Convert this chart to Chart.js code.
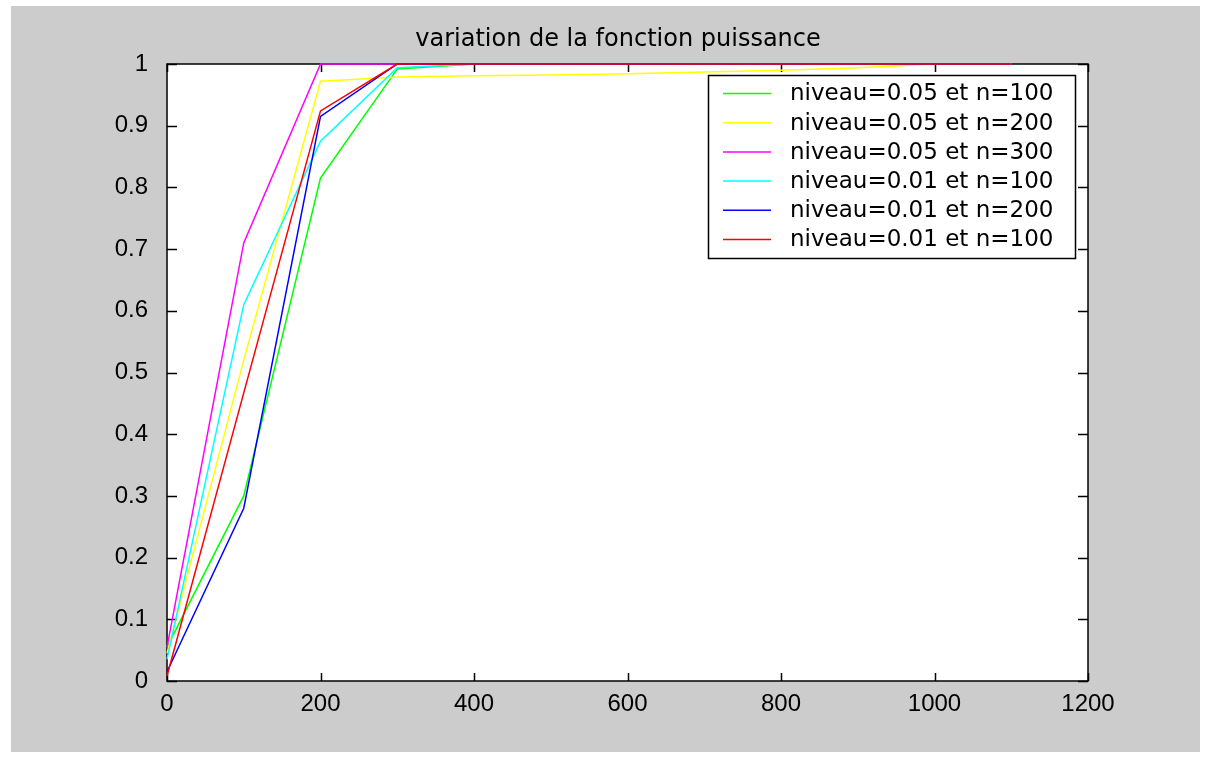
<!DOCTYPE html>
<html>
<head>
<meta charset="utf-8">
<script src="https://cdn.jsdelivr.net/npm/chart.js@4"></script>
<style>
  html, body { margin: 0; padding: 0; background: #ffffff; }
  canvas { display: block; }
</style>
</head>
<body>
<canvas id="c" width="1206" height="761"></canvas>
<script>
// ---- data ----
const xValues = [0, 100, 200, 300, 400, 500, 600, 700, 800, 900, 1000, 1100];
const seriesLabels = [
  'niveau=0.05 et n=100',
  'niveau=0.05 et n=200',
  'niveau=0.05 et n=300',
  'niveau=0.01 et n=100',
  'niveau=0.01 et n=200',
  'niveau=0.01 et n=100'
];
const seriesColors = ['#00ff00', '#ffff00', '#ff00ff', '#00ffff', '#0000ff', '#ff0000'];
const greenValues   = [0.055, 0.300, 0.815, 0.992, 1, 1, 1, 1, 1, 1, 1, 1];
const yellowValues  = [0.045, 0.520, 0.972, 0.979, 0.981, 0.982, 0.984, 0.987, 0.990, 0.994, 1, 1];
const magentaValues = [0.055, 0.710, 1.000, 1, 1, 1, 1, 1, 1, 1, 1, 1];
const cyanValues    = [0.035, 0.610, 0.875, 0.994, 1, 1, 1, 1, 1, 1, 1, 1];
const blueValues    = [0.015, 0.280, 0.915, 1, 1, 1, 1, 1, 1, 1, 1, 1];
const redValues     = [0.008, 0.467, 0.924, 1, 1, 1, 1, 1, 1, 1, 1, 1];
const xTickLabels = ['0', '200', '400', '600', '800', '1000', '1200'];
const yTickLabels = ['0', '0.1', '0.2', '0.3', '0.4', '0.5', '0.6', '0.7', '0.8', '0.9', '1'];
const titleText = 'variation de la fonction puissance';

const allValues = [greenValues, yellowValues, magentaValues, cyanValues, blueValues, redValues];

const datasets = allValues.map((vals, i) => ({
  label: seriesLabels[i],
  data: xValues.map((x, j) => ({ x: x, y: vals[j] })),
  borderColor: seriesColors[i],
  backgroundColor: seriesColors[i],
  borderWidth: 1.5,
  pointRadius: 0,
  fill: false,
  tension: 0,
  clip: 3,
  order: allValues.length - i
}));

const matlabPlugin = {
  id: 'matlabLook',
  beforeDraw(chart) {
    const ctx = chart.ctx;
    const a = chart.chartArea;
    ctx.save();
    ctx.fillStyle = '#ffffff';
    ctx.fillRect(0, 0, chart.width, chart.height);
    ctx.fillStyle = '#cccccc';
    ctx.fillRect(11, 6, 1189, 746);
    ctx.fillStyle = '#ffffff';
    ctx.fillRect(a.left, a.top, a.right - a.left, a.bottom - a.top);
    ctx.restore();
  },
  beforeDatasetsDraw(chart) {
    const ctx = chart.ctx;
    const a = chart.chartArea;
    const xs = chart.scales.x, ys = chart.scales.y;
    ctx.save();
    ctx.strokeStyle = '#000000';
    ctx.lineWidth = 1.5;
    ctx.strokeRect(a.left, a.top, a.right - a.left, a.bottom - a.top);
    ctx.beginPath();
    xs.ticks.forEach(t => {
      const px = Math.round(xs.getPixelForValue(t.value)) + 0.5;
      ctx.moveTo(px, a.bottom); ctx.lineTo(px, a.bottom - 8);
      ctx.moveTo(px, a.top); ctx.lineTo(px, a.top + 8);
    });
    ys.ticks.forEach(t => {
      const py = Math.round(ys.getPixelForValue(t.value)) + 0.5;
      ctx.moveTo(a.left, py); ctx.lineTo(a.left + 10, py);
      ctx.moveTo(a.right, py); ctx.lineTo(a.right - 10, py);
    });
    ctx.lineWidth = 1.5;
    ctx.stroke();
    ctx.restore();
  },
  afterDatasetsDraw(chart) {
    const ctx = chart.ctx;
    ctx.save();
    // title
    ctx.fillStyle = '#000000';
    ctx.font = '24px "DejaVu Sans"';
    ctx.textAlign = 'center';
    ctx.textBaseline = 'alphabetic';
    ctx.fillText(titleText, 618, 46);
    // legend box
    const bx = 708.5, by = 75.5, bw = 367, bh = 183;
    ctx.fillStyle = '#ffffff';
    ctx.fillRect(bx, by, bw, bh);
    ctx.strokeStyle = '#000000';
    ctx.lineWidth = 1.5;
    ctx.strokeRect(bx, by, bw, bh);
    ctx.font = '23px "DejaVu Sans"';
    ctx.textAlign = 'left';
    ctx.textBaseline = 'middle';
    chart.data.datasets.forEach((ds, i) => {
      const y = 93.5 + i * 29.2;
      ctx.strokeStyle = ds.borderColor;
      ctx.lineWidth = 1.5;
      ctx.beginPath();
      ctx.moveTo(723, y); ctx.lineTo(771, y);
      ctx.stroke();
      ctx.fillStyle = '#000000';
      ctx.fillText(ds.label, 790, y + 1);
    });
    ctx.restore();
  }
};

new Chart(document.getElementById('c'), {
  type: 'line',
  data: { datasets: datasets },
  options: {
    responsive: false,
    animation: false,
    events: [],
    layout: { padding: { left: 0, top: 64, right: 118, bottom: 0 } },
    plugins: { legend: { display: false }, tooltip: { enabled: false }, title: { display: false } },
    scales: {
      x: {
        type: 'linear', min: 0, max: 1200,
        grid: { display: false },
        border: { display: false },
        ticks: {
          stepSize: 200, color: '#000000', padding: 1, maxRotation: 0,
          font: { family: 'Liberation Sans', size: 24 },
          callback: (v, i) => xTickLabels[i]
        },
        afterFit: s => { s.height = 80; }
      },
      y: {
        type: 'linear', min: 0, max: 1,
        grid: { display: false },
        border: { display: false },
        ticks: {
          stepSize: 0.1, color: '#000000', padding: 11,
          font: { family: 'Liberation Sans', size: 24 },
          callback: (v, i) => yTickLabels[i]
        },
        afterFit: s => { s.width = 167; }
      }
    }
  },
  plugins: [matlabPlugin]
});
</script>
</body>
</html>
